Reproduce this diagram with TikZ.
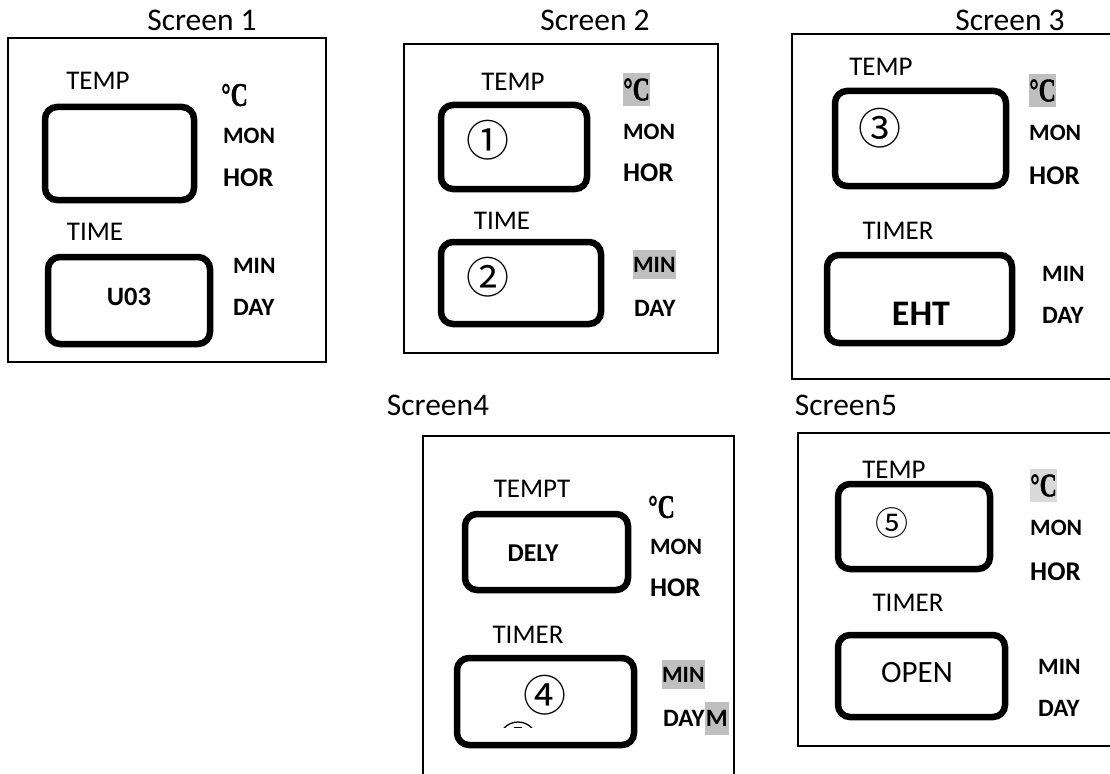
\documentclass[tikz,border=0pt]{standalone}
\usepackage{fontspec}
\usepackage{graphicx}
\setmainfont{Carlito}
\newfontfamily\degf[FakeBold=1.2]{Liberation Serif Bold}
\newfontfamily\cjk{Noto Sans CJK SC}
\definecolor{hlA}{HTML}{BFBFBF}
\definecolor{hlB}{HTML}{D9D9D9}
\newcommand{\degC}{{\degf\fontsize{33}{33}\selectfont\scalebox{0.72}[1]{°C}}}
\tikzset{
  frame/.style={draw, line width=1.6pt, inner sep=0pt},
  disp/.style={draw, line width=6.5pt, rounded corners=12pt, inner sep=0pt},
  title/.style={font=\fontsize{31.5}{31.5}\selectfont, inner sep=0pt},
  lbl/.style={font=\fontsize{27}{27}\selectfont, inner sep=0pt},
  unitS/.style={font=\bfseries\fontsize{23.5}{23.5}\selectfont, inner sep=0pt, anchor=west},
  unitL/.style={font=\bfseries\fontsize{27}{27}\selectfont, inner sep=0pt, anchor=west},
  unitD/.style={font=\bfseries\fontsize{25}{25}\selectfont, inner sep=0pt, anchor=west},
  deg/.style={inner sep=0pt, anchor=west, minimum width=26pt, minimum height=33pt},
  val/.style={font=\bfseries\fontsize{26.5}{26.5}\selectfont, inner sep=0pt},
  circ/.style={font=\cjk\fontsize{43}{43}\selectfont, inner sep=0pt},
}
\begin{document}
\begin{tikzpicture}[x=1pt,y=-1pt]
\useasboundingbox (0,0) rectangle (1110,773);
\clip (0,0) rectangle (1110,773);

% ---------- Screen 1 ----------
\node[frame, minimum width=318pt, minimum height=324pt] (f1) at (167,200) {};
\node[disp, minimum width=149pt, minimum height=93pt] (d1a) at (119.5,153.5) {};
\node[disp, minimum width=162pt, minimum height=87pt] (d1b) at (129,300.5) {};
\node[title] (t1) at (202,20) {Screen 1};
\node[lbl] (l1a) at (98,81) {TEMP};
\node[lbl] (l1b) at (95,232) {TIME};
\node[deg] (c1) at (221,95) {\degC};
\node[unitS] (mon1) at (223,136) {MON};
\node[unitL] (hor1) at (223,178) {HOR};
\node[unitS] (min1) at (233,266) {MIN};
\node[unitD] (day1) at (233,307) {DAY};
\node[val] (v1) at (129,297) {U03};

% ---------- Screen 2 ----------
\node[frame, minimum width=314pt, minimum height=309pt] (f2) at (561,198.5) {};
\node[disp, minimum width=146pt, minimum height=84pt] (d2a) at (514,147) {};
\node[disp, minimum width=160pt, minimum height=82pt] (d2b) at (521,283) {};
\node[title] (t2) at (595,20) {Screen 2};
\node[lbl] (l2a) at (513,82) {TEMP};
\node[lbl] (l2b) at (502,221) {TIME};
\node[deg, fill=hlA] (c2) at (623,89.5) {\degC};
\node[unitS] (mon2) at (623,132) {MON};
\node[unitL] (hor2) at (623,173) {HOR};
\node[unitS, fill=hlA, minimum height=29pt, inner xsep=0.5pt] (min2) at (632.5,264.5) {MIN};
\node[unitD] (day2) at (634,308) {DAY};
\node[circ] (n1) at (488,140) {①};
\node[circ] (n2) at (488,277) {②};

% ---------- Screen 3 ----------
\node[frame, minimum width=333pt, minimum height=345pt] (f3) at (958.5,206.5) {};
\node[disp, minimum width=171pt, minimum height=95pt] (d3a) at (920.5,138.5) {};
\node[disp, minimum width=185pt, minimum height=88pt] (d3b) at (919.5,299) {};
\node[title] (t3) at (1010,20) {Screen 3};
\node[lbl] (l3a) at (881,67) {TEMP};
\node[lbl] (l3b) at (898,231) {TIMER};
\node[deg, fill=hlA] (c3) at (1029,90.5) {\degC};
\node[unitS] (mon3) at (1029,133) {MON};
\node[unitL] (hor3) at (1029,176) {HOR};
\node[unitS] (min3) at (1042,274) {MIN};
\node[unitD] (day3) at (1042,315) {DAY};
\node[circ] (n3) at (880,128) {③};
\node[font=\bfseries\fontsize{36}{36}\selectfont, inner sep=0pt] (v3) at (921,314) {EHT};

% ---------- Screen 4 ----------
\node[frame, minimum width=311pt, minimum height=364pt] (f4) at (578.5,618) {};
\node[disp, minimum width=163pt, minimum height=76pt] (d4a) at (546.5,552) {};
\node[disp, minimum width=177pt, minimum height=87pt] (d4b) at (545.5,701.5) {};
\node[title] (t4) at (438,405) {Screen4};
\node[lbl] (l4a) at (532,489) {TEMPT};
\node[lbl] (l4b) at (528,635) {TIMER};
\node[deg] (c4) at (648,507) {\degC};
\node[unitS] (mon4) at (650,547) {MON};
\node[unitL] (hor4) at (650,588) {HOR};
\node[unitS, fill=hlA, minimum height=29pt, inner xsep=0.5pt] (min4) at (661.5,674.5) {MIN};
\node[unitD] (day4) at (663,718) {DAY};
\node[unitD, fill=hlA, minimum height=33pt, inner xsep=1pt] (m4) at (day4.east) {M};
\node[font=\bfseries\fontsize{25.7}{25.7}\selectfont, inner sep=0pt] (v4) at (533,553) {DELY};
\node[circ] (n4) at (545,695) {④};
\begin{scope}
  \clip (495,700) rectangle (545,727);
  \draw[line width=1.3pt] (518,741) circle (19);
\end{scope}
\draw[line width=1.2pt] (514,727.5) -- (522,727.5);

% ---------- Screen 5 ----------
\node[frame, minimum width=327pt, minimum height=313pt] (f5) at (961.5,589.5) {};
\node[disp, minimum width=152pt, minimum height=85pt] (d5a) at (914,526.5) {};
\node[disp, minimum width=167pt, minimum height=82pt] (d5b) at (921.5,676) {};
\node[title] (t5) at (846,405) {Screen5};
\node[lbl] (l5a) at (894,470) {TEMP};
\node[lbl] (l5b) at (908,603) {TIMER};
\node[deg, fill=hlB] (c5) at (1030,485.5) {\degC};
\node[unitS] (mon5) at (1030,528) {MON};
\node[unitL] (hor5) at (1030,572) {HOR};
\node[unitS] (min5) at (1038,667) {MIN};
\node[unitD] (day5) at (1038,708) {DAY};
\node[circ, font=\cjk\fontsize{33}{33}\selectfont] (n5) at (892,523) {⑤};
\node[font=\fontsize{31}{31}\selectfont, inner sep=0pt] (v5) at (917,673) {OPEN};
\end{tikzpicture}
\end{document}
